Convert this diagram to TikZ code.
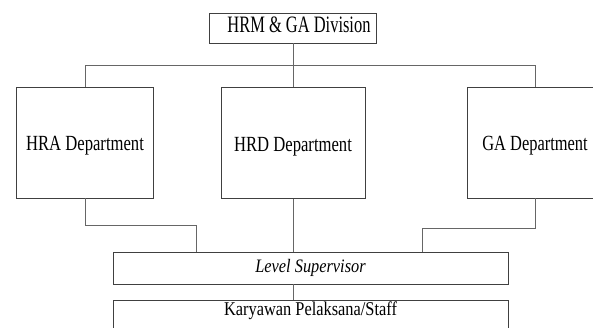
\documentclass[tikz,border=0pt]{standalone}
\usepackage{fontspec}
\setmainfont{Liberation Serif}
\usepackage{graphicx}
\usepackage{tikz}
\newcommand{\narrowtext}[2]{\scalebox{#1}[1]{#2}}

\begin{document}
\begin{tikzpicture}[x=1pt, y=-1pt,
        unit/.style={draw=black!75, line width=0.9pt, inner sep=0pt},
        dept/.style={unit, minimum width=137pt, minimum height=111pt,
            font=\fontsize{21.6}{24}\selectfont, text height=19pt, text depth=3pt},
        link/.style={draw=black!60, line width=0.8pt}]
    \clip (0,0) rectangle (593,327);
    % division and departments
    \node[unit, minimum width=167pt, minimum height=30pt,
        font=\fontsize{23.5}{26}\selectfont, text height=16pt, text depth=8pt]
        (div) at (293,28) {\hspace{12pt}\narrowtext{0.70}{HRM \& GA Division}};
    \node[dept] (hra) at (85,142.5) {\narrowtext{0.77}{HRA Department}};
    \node[dept, minimum width=144pt] (hrd) at (293,143) {\narrowtext{0.77}{HRD Department}};
    \node[dept, minimum width=136pt] (ga) at (535,142.5) {\narrowtext{0.76}{GA Department}};
    % lower levels
    \node[unit, minimum width=395pt, minimum height=32pt,
        font=\fontsize{19}{22}\selectfont\itshape]
        (sup) at (310.5,268) {\narrowtext{0.86}{Level Supervisor}};
    \node[unit, minimum width=395pt, anchor=north,
        font=\fontsize{19.5}{22}\selectfont, text height=15pt, text depth=30pt]
        (staff) at (310.5,300) {\narrowtext{0.84}{Karyawan Pelaksana/Staff}};
    % connectors
    \coordinate (bus) at (293,65);
    \draw[link] (div.south) -- (hrd.north);
    \draw[link] (hra.north) -- (hra.north |- bus) -- (ga.north |- bus) -- (ga.north);
    \draw[link] (hra.south) -- ++(0,27) -| ([xshift=84pt]sup.north west);
    \draw[link] (hrd.south) -- (sup.north -| hrd.south);
    \draw[link] (ga.south) -- ++(0,30) -| ([xshift=310pt]sup.north west);
    \draw[link] (sup.south -| hrd.south) -- (staff.north -| hrd.south);
\end{tikzpicture}
\end{document}
